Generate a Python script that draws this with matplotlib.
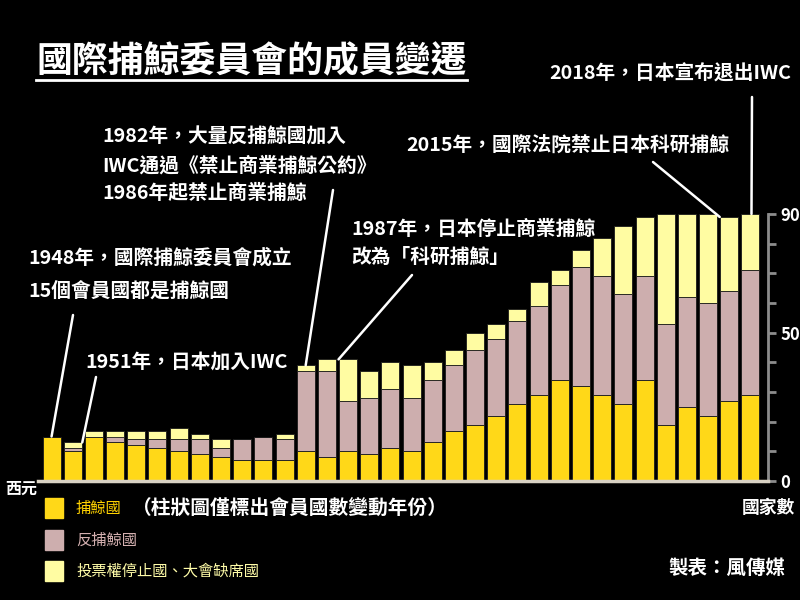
import matplotlib
matplotlib.use("Agg")
import matplotlib.pyplot as plt
from matplotlib.lines import Line2D
import numpy as np

plt.rcParams['font.family'] = ['Noto Sans CJK TC', 'DejaVu Sans']

# ---- data ----
whaling   = [15, 10, 15, 13, 12, 11, 10, 9, 8, 7, 7, 7,
             10, 8, 10, 9, 11, 10, 13, 17, 19, 22, 26, 29, 34, 32, 29, 26, 34, 19, 25, 22, 27, 29]
anti      = [0, 1, 0, 2, 2, 3, 4, 5, 3, 7, 8, 7,
             27, 29, 17, 19, 20, 18, 21, 22, 25, 26, 28, 30, 32, 40, 40, 37, 35, 34, 37, 38, 37, 42]
suspended = [0, 2, 2, 2, 3, 3, 4, 2, 3, 0, 0, 2,
             2, 4, 14, 9, 9, 11, 6, 5, 6, 5, 4, 8, 5, 6, 13, 23, 20, 37, 28, 30, 25, 19]
y_ticks = [0, 50, 90]

C_WHALE = '#FFD818'
C_ANTI = '#CDAEAE'
C_SUSP = '#FFFCA2'

W, H = 800, 600
fig = plt.figure(figsize=(8, 6), dpi=100, facecolor='black')

def fx(px):
    return px / W

def fy(py):
    return 1 - py / H

ax = fig.add_axes([fx(38), fy(481), fx(768) - fx(38), fy(214) - fy(481)])
ax.set_facecolor('black')

x = np.arange(len(whaling))
w = np.array(whaling)
a = np.array(anti)
s = np.array(suspended)
total = w + a + s
bw = 0.85
ax.bar(x, w, bw, color=C_WHALE, edgecolor='#1a1a1a', linewidth=0.6)
ax.bar(x, a, bw, bottom=w, color=C_ANTI, edgecolor='#1a1a1a', linewidth=0.6)
ax.bar(x, s, bw, bottom=w + a, color=C_SUSP, edgecolor='#1a1a1a', linewidth=0.6)

ax.set_xlim(-0.64, len(x) - 1 + 0.83)
ax.set_ylim(0, 90)
for sp in ['left', 'top']:
    ax.spines[sp].set_visible(False)
ax.spines['bottom'].set_color('#d9d2c3')
ax.spines['bottom'].set_linewidth(2.5)
ax.spines['right'].set_color('#8c8c8c')
ax.spines['right'].set_linewidth(2)
ax.set_xticks([])
ax.yaxis.tick_right()
ax.set_yticks(np.arange(0, 91, 10))
ax.set_yticklabels([str(v) if v in y_ticks else '' for v in range(0, 91, 10)])
ax.tick_params(axis='y', colors='#8c8c8c', length=6, width=2, pad=3,
               labelcolor='white', labelsize=12)
for t in ax.get_yticklabels():
    t.set_fontweight('bold')

# ---- title ----
title = fig.text(fx(36), fy(62), '國際捕鯨委員會的成員變遷', color='white',
                 fontsize=25.8, fontweight='bold', va='center', ha='left')
fig.canvas.draw()
bb = title.get_window_extent()
fig.add_artist(Line2D([bb.x0 / W, bb.x1 / W], [fy(80), fy(80)], color='white', lw=2))

# ---- annotations ----
TXT = dict(color='white', fontsize=14.2, fontweight='bold', va='center', ha='left')
fig.text(fx(28), fy(258), '1948年，國際捕鯨委員會成立', **TXT)
fig.text(fx(28), fy(292), '15個會員國都是捕鯨國', **TXT)
fig.text(fx(85), fy(362), '1951年，日本加入IWC', **TXT)
fig.text(fx(102), fy(137), '1982年，大量反捕鯨國加入', **TXT)
fig.text(fx(102), fy(166), 'IWC通過《禁止商業捕鯨公約》', **TXT)
fig.text(fx(102), fy(193), '1986年起禁止商業捕鯨', **TXT)
fig.text(fx(351), fy(229), '1987年，日本停止商業捕鯨', **TXT)
fig.text(fx(351), fy(257), '改為「科研捕鯨」', **TXT)
fig.text(fx(406), fy(146), '2015年，國際法院禁止日本科研捕鯨', **TXT)
fig.text(fx(549), fy(74), '2018年，日本宣布退出IWC', **TXT)

def link(i, dx, start):
    ax.annotate('', xy=(i + dx, total[i]), xycoords='data',
                xytext=(fx(start[0]), fy(start[1])), textcoords='figure fraction',
                arrowprops=dict(arrowstyle='-', color='white', lw=1.8,
                                shrinkA=0, shrinkB=0), annotation_clip=False)

link(0, 0.0, (73, 315))
link(1, 0.45, (96, 377))
link(12, 0.0, (333, 190))
link(14, -0.45, (412, 275))
link(32, -0.45, (653, 162))
link(33, 0.05, (752, 97))

# ---- legend / footer ----
fig.text(fx(5), fy(489), '西元', color='white', fontsize=11.5, fontweight='bold',
         va='center', ha='left')
fig.text(fx(795), fy(508), '國家數', color='white', fontsize=12.8, fontweight='bold',
         va='center', ha='right')
fig.text(fx(785), fy(568), '製表：風傳媒', color='white', fontsize=14, fontweight='bold',
         va='center', ha='right')

legend_items = [(C_WHALE, '捕鯨國', '#FFD200', 508),
                (C_ANTI, '反捕鯨國', '#D4B0B0', 540),
                (C_SUSP, '投票權停止國、大會缺席國', '#FFFCA8', 571)]
for col, lab, tcol, py in legend_items:
    fig.patches.append(plt.Rectangle((fx(45), fy(py + 10)), fx(18), 20 / H,
                                     transform=fig.transFigure, color=col, figure=fig))
    fig.text(fx(76), fy(py), lab, color=tcol, fontsize=11, va='center', ha='left')
fig.text(fx(132), fy(508), '（柱狀圖僅標出會員國數變動年份）', color='white', fontsize=14.2,
         fontweight='bold', va='center', ha='left')

fig.savefig('out.png', dpi=100, facecolor='black')
